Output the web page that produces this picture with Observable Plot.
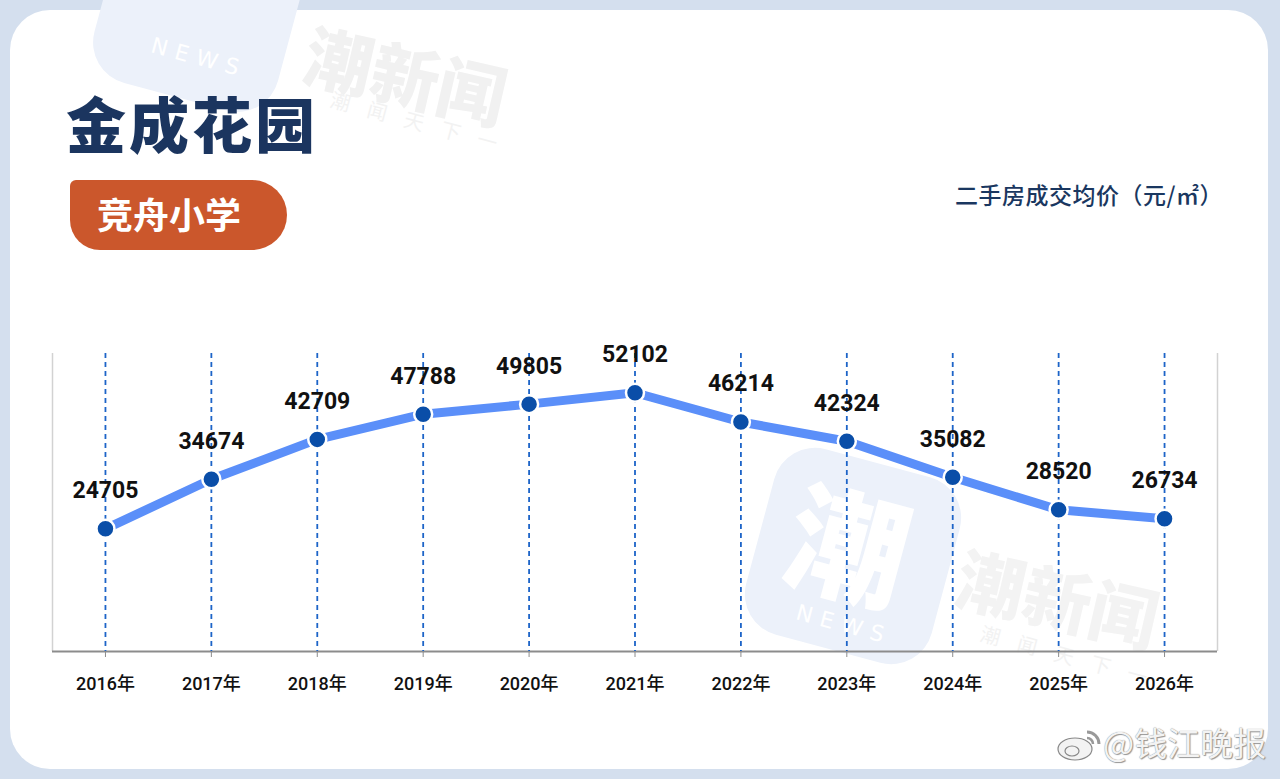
<!DOCTYPE html>
<html>
<head>
<meta charset="utf-8">
<script src="https://cdn.jsdelivr.net/npm/d3@7"></script>
<script src="https://cdn.jsdelivr.net/npm/@observablehq/plot@0.6"></script>
<style>
  html, body { margin: 0; padding: 0; }
  body { width: 1280px; height: 779px; overflow: hidden; position: relative; background: #d4dfee; font-family: "Noto Sans CJK SC", "Noto Sans", sans-serif; }
  .card { position: absolute; left: 10px; top: 10px; width: 1258px; height: 759px; background: #fff; border-radius: 40px; }
  .wm { position: absolute; pointer-events: none; white-space: nowrap; }
  .logo { background: #ecf1fa; border-radius: 42px; transform: rotate(15deg); }
  .wmtext { color: #f1f1f1; font-weight: 900; transform: rotate(13deg); transform-origin: left top; }
  .wmsmall { color: #f2f2f2; transform: rotate(15deg); transform-origin: left top; letter-spacing: 18px; }
  .news { color: #fff; font-family: "DejaVu Sans", sans-serif; letter-spacing: 8px; transform: rotate(15deg); }
  .chao { color: #fff; font-weight: 900; transform: rotate(15deg); }
  #title { position: absolute; left: 66px; top: 92px; font-size: 60px; line-height: 60px; font-weight: 900; color: #1b355f; letter-spacing: 3px; }
  #badge { position: absolute; left: 70px; top: 180px; width: 217px; height: 70px; background: #cb572c; border-radius: 6px 35px 35px 30px; }
  #badge span { position: absolute; left: 27px; top: 15px; font-size: 36px; line-height: 36px; font-weight: 700; color: #fff; }
  #sub { position: absolute; right: 57px; top: 183px; font-size: 23px; line-height: 23px; font-weight: 500; color: #1a3760; letter-spacing: 0.5px; }
  #chart { position: absolute; left: 0; top: 300px; }
  #weibo { position: absolute; left: 1103px; top: 726px; font-size: 33px; line-height: 33px; color: #f3f3f3; text-shadow: 0 0 1px #777, 1px 1px 1px #999; }
  #wlogo { position: absolute; left: 1055px; top: 728px; }
</style>
</head>
<body>
<div class="card"></div>

<!-- faint watermarks -->
<div class="wm logo" style="left:105px; top:-90px; width:190px; height:190px;"></div>
<div class="wm news" style="left:150px; top:45px; font-size:22px;">NEWS</div>
<div class="wm wmtext" style="left:318px; top:2px; font-size:68px;">潮新闻</div>
<div class="wm wmsmall" style="left:335px; top:84px; font-size:20px;">潮闻天下一</div>
<div class="wm logo" style="left:757px; top:460px; width:192px; height:192px;"></div>
<div class="wm chao" style="left:790px; top:470px; font-size:120px; line-height:140px;">潮</div>
<div class="wm news" style="left:795px; top:612px; font-size:22px;">NEWS</div>
<div class="wm wmtext" style="left:970px; top:525px; font-size:68px; color:#f3f3f3;">潮新闻</div>
<div class="wm wmsmall" style="left:985px; top:618px; font-size:20px;">潮闻天下一</div>

<div id="title">金成花园</div>
<div id="badge"><span>竞舟小学</span></div>
<div id="sub">二手房成交均价（元/㎡）</div>
<div id="chart"></div>

<svg id="wlogo" width="48" height="34" viewBox="0 0 48 34">
  <ellipse cx="20" cy="21" rx="17" ry="11" fill="#f3f3f3" stroke="#888" stroke-width="1.2"/>
  <ellipse cx="17" cy="23" rx="7" ry="5" fill="none" stroke="#888" stroke-width="1.2"/>
  <path d="M32 4 a12 12 0 0 1 12 12" fill="none" stroke="#999" stroke-width="3"/>
  <path d="M32 10 a6 6 0 0 1 6 6" fill="none" stroke="#999" stroke-width="2.5"/>
</svg>
<div id="weibo">@钱江晚报</div>

<script>
const years = [2016, 2017, 2018, 2019, 2020, 2021, 2022, 2023, 2024, 2025, 2026];
const prices = [24705, 34674, 42709, 47788, 49805, 52102, 46214, 42324, 35082, 28520, 26734];
const yearSuffix = "年";

const data = years.map((year, i) => ({year, price: prices[i]}));

const chart = Plot.plot({
  width: 1280,
  height: 420,
  marginTop: 53,
  marginBottom: 69,
  marginLeft: 52,
  marginRight: 63,
  x: {type: "linear", domain: [years[0] - 0.5, years[years.length - 1] + 0.5]},
  y: {domain: [0, 60000], axis: null},
  style: {background: "transparent", fontFamily: "Roboto, 'Noto Sans CJK SC', sans-serif", overflow: "visible"},
  marks: [
    Plot.ruleX([years[0] - 0.5, years[years.length - 1] + 0.5], {stroke: "#d2d2d2", strokeWidth: 1.5}),
    Plot.ruleY([0], {stroke: "#8c8c8c", strokeWidth: 2}),
    Plot.axisX({
      ticks: years,
      tickFormat: d => `${d}${yearSuffix}`,
      tickSize: 6,
      tickPadding: 20,
      stroke: "#8c8c8c",
      fill: "#111",
      fontSize: 18,
      fontWeight: 500,
      label: null
    }),
    Plot.ruleX(years, {stroke: "#1d64c8", strokeWidth: 1.8, strokeDasharray: "5,4"}),
    Plot.line(data, {x: "year", y: "price", stroke: "#5b8ff9", strokeWidth: 9, strokeLinejoin: "round"}),
    Plot.dot(data, {x: "year", y: "price", r: 9, fill: "#0a4ea8", stroke: "#fff", strokeWidth: 2.5}),
    Plot.text(data, {x: "year", y: "price", text: d => String(d.price), dy: -38, fontSize: 23, fontWeight: 700, fill: "#111"})
  ]
});
document.getElementById("chart").appendChild(chart);
</script>
</body>
</html>
